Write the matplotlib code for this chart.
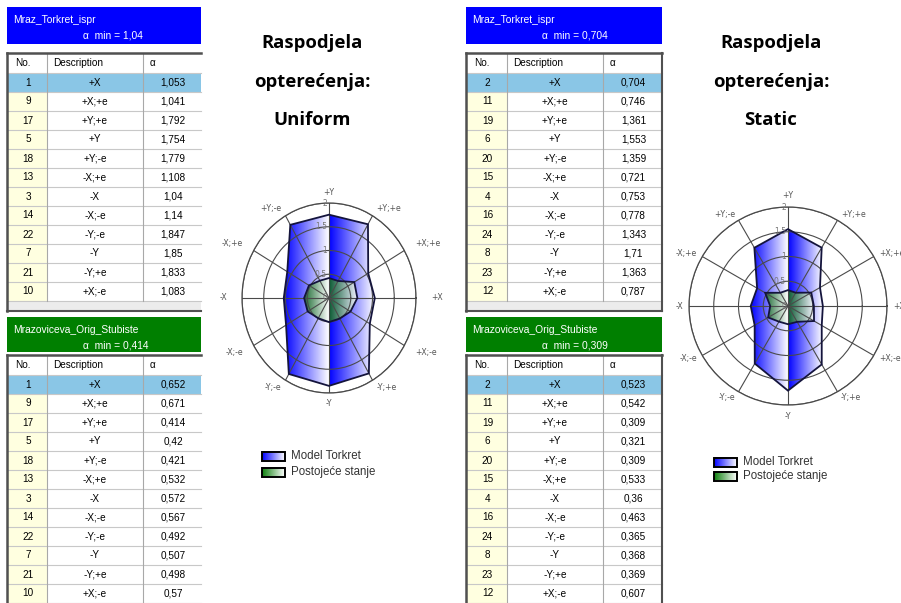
import numpy as np
import matplotlib.pyplot as plt
from matplotlib.patches import Rectangle
from matplotlib.image import AxesImage
from matplotlib.transforms import offset_copy

# smjerovi djelovanja potresa (redoslijed iz tablica, 0° = +X, korak 30°)
smjerovi = ['+X', '+X;+e', '+Y;+e', '+Y', '+Y;-e', '-X;+e', '-X', '-X;-e', '-Y;-e', '-Y', '-Y;+e', '+X;-e']
br_uniform = [1, 9, 17, 5, 18, 13, 3, 14, 22, 7, 21, 10]
br_static = [2, 11, 19, 6, 20, 15, 4, 16, 24, 8, 23, 12]

torkret_uniform = [1.053, 1.041, 1.792, 1.754, 1.779, 1.108, 1.04, 1.14, 1.847, 1.85, 1.833, 1.083]
orig_uniform = [0.652, 0.671, 0.414, 0.42, 0.421, 0.532, 0.572, 0.567, 0.492, 0.507, 0.498, 0.57]
torkret_static = [0.704, 0.746, 1.361, 1.553, 1.359, 0.721, 0.753, 0.778, 1.343, 1.71, 1.363, 0.787]
orig_static = [0.523, 0.542, 0.309, 0.321, 0.309, 0.533, 0.36, 0.463, 0.365, 0.368, 0.369, 0.607]

r_ticks = [0, 0.5, 1, 1.5, 2]
naslov_torkret = 'Mraz_Torkret_ispr'
naslov_orig = 'Mrazoviceva_Orig_Stubiste'
legenda = ['Model Torkret', 'Postojeće stanje']

PLAVA = '#0000ff'
ZELENA = '#007f00'
FONT = 'Liberation Sans'

fig = plt.figure(figsize=(9.01, 6.03), dpi=100)
bg = fig.add_axes([0, 0, 1, 1])
bg.set_xlim(0, 901)
bg.set_ylim(603, 0)
bg.axis('off')


def fmt(v):
    return str(v).replace('.', ',')


def tablica(x0, c1, c2, x1, y_head, h_head, y_frame, naslov, boja, brojevi, vrijednosti, desni_rub, kraj=None):
    # obojeno zaglavlje s nazivom modela
    bg.add_patch(Rectangle((x0, y_head), x1 - x0, h_head, color=boja, lw=0))
    bg.text(x0 + 6, y_head + 13, naslov, color='white', fontsize=7.4, family=FONT, va='center')
    bg.text(x0 + 76, y_head + 29, 'α  min = ' + fmt(min(vrijednosti)), color='white',
            fontsize=7.4, family=FONT, va='center')

    h_row = 19.0
    y_rows = y_frame + 20
    y_end = y_rows + h_row * len(brojevi)
    # zaglavlje stupaca
    bg.text(x0 + 8, y_frame + 10, 'No.', fontsize=7.2, family=FONT, va='center')
    bg.text(c1 + 6, y_frame + 10, 'Description', fontsize=7.2, family=FONT, va='center')
    bg.text(c2 + 7, y_frame + 10, 'α', fontsize=7.2, family=FONT, va='center')
    for i, (n, s, v) in enumerate(zip(brojevi, smjerovi, vrijednosti)):
        y = y_rows + i * h_row
        if i == 0:
            bg.add_patch(Rectangle((x0, y), x1 - x0, h_row, color='#8ac6e6', lw=0))
        else:
            bg.add_patch(Rectangle((x0, y), c1 - x0, h_row, color='#ffffe0', lw=0))
        bg.plot([x0, x1], [y, y], color='#c8c8c8', lw=0.8)
        bg.text((x0 + c1) / 2 + 1, y + h_row / 2, str(n), fontsize=7.2, family=FONT, ha='center', va='center')
        bg.text((c1 + c2) / 2, y + h_row / 2, s, fontsize=7.2, family=FONT, ha='center', va='center')
        bg.text((c2 + x1) / 2 + 1, y + h_row / 2, fmt(v), fontsize=7.2, family=FONT, ha='center', va='center')
    bg.plot([x0, x1], [y_end, y_end], color='#c8c8c8', lw=0.8)
    for c in (c1, c2):
        bg.plot([c, c], [y_frame, y_end], color='#a8a8a8', lw=0.8)
    # okvir tablice
    if kraj is not None:
        bg.add_patch(Rectangle((x0, y_end), x1 - x0, kraj - y_end, color='#ececec', lw=0))
        bg.plot([x0, x1], [kraj, kraj], color='#505050', lw=1.5)
        y_low = kraj
    else:
        y_low = 603
    bg.plot([x0, x1], [y_frame, y_frame], color='#505050', lw=1.8)
    bg.plot([x0, x0], [y_frame, y_low], color='#505050', lw=1.8)
    if desni_rub:
        bg.plot([x1, x1], [y_frame, y_low], color='#505050', lw=1.5)


tablica(7, 47, 143, 201, 7, 37, 53, naslov_torkret, PLAVA, br_uniform, torkret_uniform, False, kraj=311)
tablica(7, 47, 143, 201, 317, 35, 355, naslov_orig, ZELENA, br_uniform, orig_uniform, False)
tablica(466, 507, 603, 662, 7, 37, 53, naslov_torkret, PLAVA, br_static, torkret_static, True, kraj=311)
tablica(466, 507, 603, 662, 317, 35, 355, naslov_orig, ZELENA, br_static, orig_static, True)

# naslovi
for x, tip in ((312, 'Uniform'), (771, 'Static')):
    for y, t in ((43, 'Raspodjela'), (82, 'opterećenja:'), (120, tip)):
        bg.text(x, y, t, fontsize=13.3, family='Open Sans', fontweight='bold', ha='center', va='center')


def gradijent(rgb, lijevo, desno, alpha, n=300):
    # boja -> bijela, posebno za lijevu i desnu polovicu
    xs = np.linspace(0, 1, n)
    t = np.where(xs < 0.5, (xs - lijevo) / (0.5 - lijevo), (xs - 0.5) / (desno - 0.5))
    t = np.clip(t, 0, 1)
    img = np.ones((2, n, 4))
    for k in range(3):
        img[..., k] = rgb[k] * (1 - t) + t
    img[..., 3] = alpha
    return img


def radar(ax, torkret, orig, r_h, r_v):
    kut = np.deg2rad(np.arange(0, 360, 30))
    t = np.append(kut, kut[0])
    for vals, rgb, alpha, z in ((torkret, (0, 0, 1), 1.0, 1), (orig, (0.05, 0.42, 0.05), 0.85, 1.5)):
        r = np.append(vals, vals[0])
        poly, = ax.fill(t, r, facecolor='none', edgecolor='#14143c', lw=1.3, zorder=3)
        xf = 0.5 + 0.25 * r * np.cos(t)
        im = AxesImage(ax, extent=(0, 1, 0, 1), transform=ax.transAxes, interpolation='bilinear', zorder=z)
        im.set_data(gradijent(rgb, xf.min(), xf.max(), alpha))
        ax.add_image(im)
        im.set_clip_path(poly)
    ax.set_xlim(0, 2 * np.pi)
    ax.set_ylim(0, 2)
    ax.set_xticks(kut)
    ax.set_xticklabels([])
    # nazivi smjerova izvan kruga
    for a, s in zip(kut, smjerovi):
        c, sn = np.cos(a), np.sin(a)
        ha = 'left' if c > 0.1 else ('right' if c < -0.1 else 'center')
        va = 'bottom' if sn > 0.9 else ('top' if sn < -0.9 else 'center')
        ax.text(a, 2 + r_h * c * c + r_v * sn * sn, s, fontsize=5.6, color='#555555',
                ha=ha, va=va, clip_on=False)
    ax.set_yticks(r_ticks)
    ax.set_yticklabels([])
    lbl_tr = offset_copy(ax.transData, fig=fig, x=-1.5, y=0, units='points')
    for v in r_ticks:
        ax.text(np.pi / 2, v, f'{v:g}', transform=lbl_tr, fontsize=5.5, color='#777777',
                ha='right', va='center', zorder=4)
    ax.grid(True, color='#4a4a4a', lw=0.8)
    ax.spines['polar'].set_color('#4a4a4a')
    ax.spines['polar'].set_linewidth(0.9)
    ax.set_axisbelow(False)
    ax.set_aspect('auto')


ax1 = fig.add_axes([242 / 901, 1 - 393 / 603, 174 / 901, 190 / 603], projection='polar')
radar(ax1, torkret_uniform, orig_uniform, 0.34, 0.13)
ax2 = fig.add_axes([689 / 901, 1 - 405 / 603, 198 / 901, 198 / 603], projection='polar')
radar(ax2, torkret_static, orig_static, 0.12, 0.15)

# legende s gradijentom u kvadratićima
for x, ys in ((262, (456, 472)), (714, (462, 476))):
    for y, rgb, txt in zip(ys, ((0, 0, 1), (0.05, 0.5, 0.05)), legenda):
        bg.imshow(gradijent(rgb, -1.0, 1.0, 1.0)[:, 150:], extent=(x, x + 23, y + 4.5, y - 4.5),
                  aspect='auto', interpolation='bilinear', zorder=2)
        bg.add_patch(Rectangle((x, y - 4.5), 23, 9, fill=False, ec='black', lw=1.4, zorder=3))
        bg.text(x + 29, y, txt, fontsize=8.3, family=FONT, color='#333333', va='center')
bg.set_xlim(0, 901)
bg.set_ylim(603, 0)

fig.savefig('out.png', dpi=100)
